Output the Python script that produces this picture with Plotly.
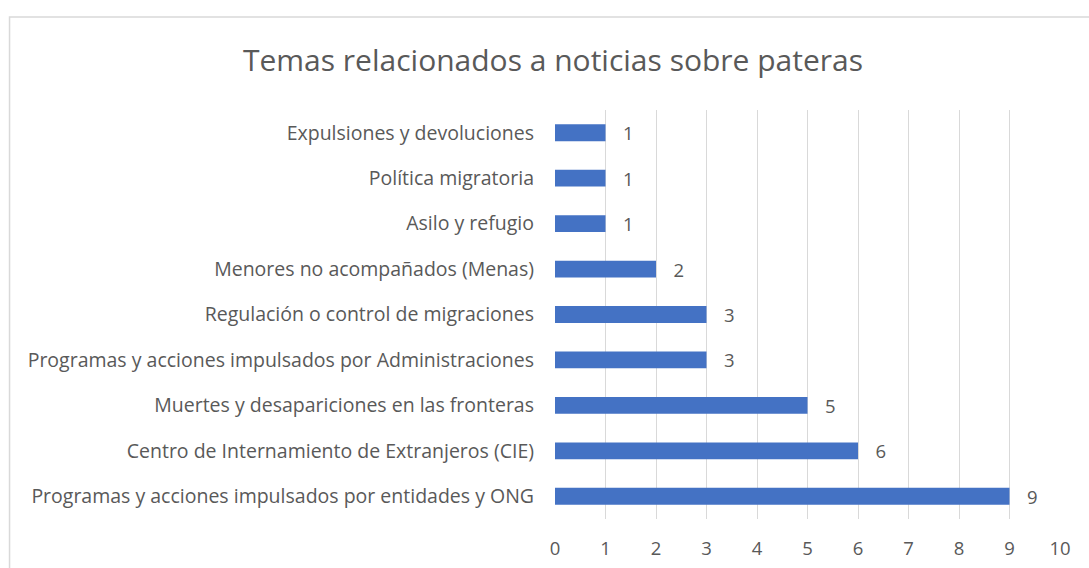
import plotly.graph_objects as go

categories = [
    "Expulsiones y devoluciones",
    "Política migratoria",
    "Asilo y refugio",
    "Menores no acompañados (Menas)",
    "Regulación o control de migraciones",
    "Programas y acciones impulsados por Administraciones",
    "Muertes y desapariciones en las fronteras",
    "Centro de Internamiento de Extranjeros (CIE)",
    "Programas y acciones impulsados por entidades y ONG",
]
values = [1, 1, 1, 2, 3, 3, 5, 6, 9]
x_ticks = list(range(0, 11))

TXT = "#595959"
FONT = "Open Sans"

fig = go.Figure(go.Bar(
    y=categories, x=values, orientation="h",
    marker=dict(color="#4472C4", line=dict(width=0)),
    text=values, texttemplate="   %{x}", textposition="outside",
    constraintext="none",
    textfont=dict(family=FONT, size=18.5, color=TXT),
    cliponaxis=False,
))

L, R, T, B = 555, 28.5, 110, 49
W, H = 1089, 568
pw, ph = W - L - R, H - T - B

fig.update_layout(
    width=W, height=H,
    margin=dict(l=L, r=R, t=T, b=B, autoexpand=False),
    paper_bgcolor="white", plot_bgcolor="white",
    bargap=0.63,
    showlegend=False,
    title=dict(text="Temas relacionados a noticias sobre pateras",
               x=553 / W, xanchor="center", xref="container",
               y=1 - 60 / H, yanchor="middle", yref="container",
               font=dict(family=FONT, size=30, color=TXT)),
    xaxis=dict(range=[0, 10], tickvals=x_ticks, showgrid=True, gridcolor="#D9D9D9",
               gridwidth=1, zeroline=False, showline=False, ticks="", automargin=False,
               tickfont=dict(family=FONT, size=18.5, color=TXT), ticklabelstandoff=16),
    yaxis=dict(autorange="reversed", showgrid=False, showline=False, ticks="", automargin=False,
               tickfont=dict(family=FONT, size=19.5, color=TXT), ticklabelstandoff=20),
    shapes=[dict(type="rect", xref="paper", yref="paper",
                 x0=(9 - L) / pw, x1=(W + 10 - L) / pw,
                 y0=(H - B - (H + 10)) / ph, y1=(H - B - 17) / ph,
                 line=dict(color="#D9D9D9", width=1.5), layer="below")],
)

fig.write_html("out.html", config={"displayModeBar": False},
               post_script="document.body.style.margin='0';document.body.style.overflow='hidden';")
